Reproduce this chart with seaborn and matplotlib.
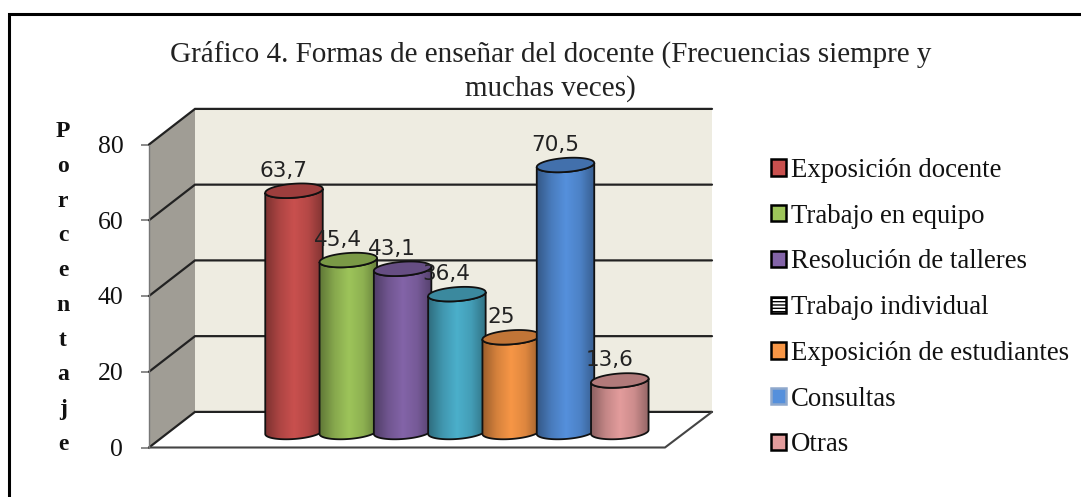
import numpy as np
import pandas as pd
import seaborn as sns
import matplotlib.pyplot as plt
from matplotlib.lines import Line2D
from matplotlib.patches import Polygon, Patch
from matplotlib.colors import LinearSegmentedColormap, to_rgb

categories = ['Exposición docente', 'Trabajo en equipo', 'Resolución de talleres',
              'Trabajo individual', 'Exposición de estudiantes', 'Consultas', 'Otras']
values = [63.7, 45.4, 43.1, 36.4, 25, 70.5, 13.6]
bar_colors = ['#C9504E', '#9DC45A', '#8364A8', '#4BAFCB', '#F79646', '#5590DC', '#E39C9C']
y_ticks = [0, 20, 40, 60, 80]
title = 'Gráfico 4. Formas de enseñar del docente (Frecuencias siempre y\nmuchas veces)'
y_letters = 'Porcentaje'

W, H = 1081, 497
sns.set_theme(style='white')
plt.rcParams['font.family'] = ['Liberation Serif', 'DejaVu Serif']
fig = plt.figure(figsize=(W / 100, H / 100), dpi=100, facecolor='white')


def px_axes(left, top, right, bottom):
    return fig.add_axes([left / W, 1 - bottom / H, (right - left) / W, (bottom - top) / H])


# page frame, only top and left are there
fig.add_artist(Line2D([8.5 / W, 8.5 / W, 1], [0, 1 - 13.5 / H, 1 - 13.5 / H], transform=fig.transFigure,
                      color='black', lw=2.2, solid_joinstyle='miter'))

# the box behind the bars, x in pixels and y in percent
box = px_axes(149, 144.5, 712, 447.5)
box.set_xlim(149, 712)
box.set_ylim(0, 80)
box.patch.set_visible(False)
depth_x = 46
depth_y = 9.4
back_l = 149 + depth_x
box.add_patch(Polygon([(back_l, depth_y), (712, depth_y), (712, 80 + depth_y), (back_l, 80 + depth_y)],
                      facecolor='#EEECE1', edgecolor='none', clip_on=False, zorder=1))
box.add_patch(Polygon([(149, 0), (back_l, depth_y), (back_l, 80 + depth_y), (149, 80)],
                      facecolor='#A09D95', edgecolor='none', clip_on=False, zorder=1))
box.add_patch(Polygon([(149, 0), (back_l, depth_y), (712, depth_y), (665, 0)],
                      facecolor='white', edgecolor='none', clip_on=False, zorder=1))
for t in y_ticks:
    box.plot([149, back_l, 712], [t, t + depth_y, t + depth_y], color='#222222', lw=1.6,
             clip_on=False, zorder=2, solid_joinstyle='miter')
box.plot([149, 665, 712], [0, 0, depth_y], color='#444444', lw=1.5, clip_on=False, zorder=2)
box.plot([149, 149], [0, 80], color='#777777', lw=1, clip_on=False, zorder=2)
sns.despine(ax=box, left=True, right=True, top=True, bottom=True)
box.set_xticks([])
box.set_yticks(y_ticks)
box.tick_params(axis='y', left=True, length=5.5, width=1.2, color='#777777', labelsize=18.5,
                labelcolor='#111111', pad=13)

# the cylinders, bars from seaborn and shaded afterwards
step = 54.3
first = 294
scale = 303 / 80
base_px = 432
y_low = -7
y_high = 80
ax = px_axes(149, base_px - y_high * scale, 712, base_px - y_low * scale)
df = pd.DataFrame({'categoria': categories, 'valor': values})
sns.barplot(data=df, x='categoria', y='valor', hue='categoria', order=categories, hue_order=categories,
            palette=bar_colors, width=57.5 / step, dodge=False, legend=False, ax=ax)
ax.set_xlim((149 - first) / step, (712 - first) / step)
ax.set_ylim(y_low, y_high)
ax.set_autoscale_on(False)
ax.axis('off')
ax.patch.set_visible(False)

ell_h = 14 / scale
tilt = (4 / scale) / (57 / step)
t = np.linspace(0, 2 * np.pi, 121)


def ellipse(cx, cy, w):
    x = cx + w / 2 * np.cos(t)
    y = cy + ell_h / 2 * np.sin(t) + tilt * (x - cx)
    return np.column_stack([x, y])


for i, (bar, c, v) in enumerate(zip(ax.patches, bar_colors, values)):
    x0 = bar.get_x()
    w = bar.get_width()
    cx = x0 + w / 2
    low = ellipse(cx, 0, w)
    top = ellipse(cx, v, w)
    body = np.vstack([low[60:121], top[0], top[60:121][::-1]])
    z = 3 + i
    ax.add_patch(Polygon(body, closed=True, facecolor='none', edgecolor='#111111', lw=1.3, zorder=z + 0.2))
    clip = Polygon(body, closed=True, transform=ax.transData)
    bar.set_clip_path(clip)
    bar.set_zorder(z)
    rgb = np.array(to_rgb(c))
    cmap = LinearSegmentedColormap.from_list('cyl', [rgb * 0.62, rgb * 0.86, rgb, rgb * 0.9, rgb * 0.65],
                                             N=64)
    im = ax.imshow(np.linspace(0, 1, 64)[None, :], cmap=cmap, aspect='auto', zorder=z + 0.1,
                   extent=[x0, x0 + w, -5, v + 5], interpolation='bilinear')
    im.set_clip_path(clip)
    ax.add_patch(Polygon(top, closed=True, facecolor=rgb * 0.78, edgecolor='#111111', lw=1.3, zorder=z + 0.3))

for bar, v in zip(ax.patches, values):
    ax.annotate(f'{v:g}'.replace('.', ','), (bar.get_x() + bar.get_width() / 2, v), xytext=(-7.5, 14.5),
                textcoords='offset points', ha='center', va='center', fontsize=15.5, color='#222222',
                family=['DejaVu Sans'], zorder=20, annotation_clip=False)

fig.text(550.5 / W, 1 - 71.5 / H, title, ha='center', va='center', fontsize=21, color='#222222',
         linespacing=1.36)
fig.text(63 / W, 1 - 288 / H, '\n'.join(y_letters), ha='center', va='center', fontsize=17,
         fontweight='bold', color='#111111', linespacing=1.86)

handles = []
for name, c in zip(categories, bar_colors):
    if name == 'Trabajo individual':
        handles.append(Patch(facecolor='white', edgecolor='black', hatch='-----', lw=1.8, label=name))
    elif name == 'Consultas':
        handles.append(Patch(facecolor=c, edgecolor='#8FA8CC', lw=1.8, label=name))
    else:
        handles.append(Patch(facecolor=c, edgecolor='black', lw=1.8, label=name))
fig.legend(handles=handles, loc='upper left', bbox_to_anchor=(771 / W, 1 - 158 / H), frameon=False,
           fontsize=19.3, labelcolor='#111111', borderpad=0, borderaxespad=0, handlelength=0.56,
           handleheight=0.56, handletextpad=0.19, labelspacing=0.773)

fig.savefig('out.png', dpi=100)
